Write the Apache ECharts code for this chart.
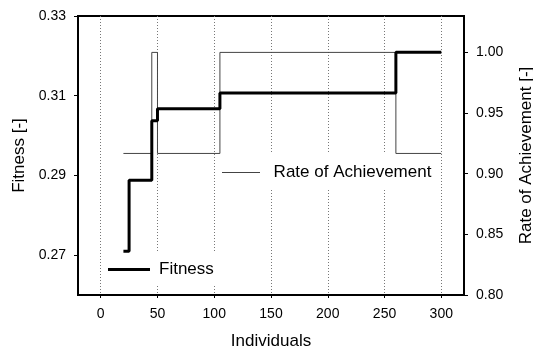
<!DOCTYPE html>
<html>
<head>
<meta charset="utf-8">
<script src="https://cdn.jsdelivr.net/npm/echarts@6/dist/echarts.min.js"></script>
<style>
html,body{margin:0;padding:0;background:#fff;}
#chart{width:533px;height:351px;}
</style>
</head>
<body>
<div id="chart"></div>
<script>
// ---- data ----
var fitnessX = [20, 25, 45, 50, 105, 260, 300];
var fitnessY = [0.271, 0.2888, 0.3037, 0.3067, 0.3107, 0.3209, 0.3209];
var rateX = [20, 45, 50, 105, 260, 300];
var rateY = [0.9167, 1.0, 0.9167, 1.0, 0.9167, 0.9167];
var xTicks = [0, 50, 100, 150, 200, 250, 300];
var fitnessTicks = [0.27, 0.29, 0.31, 0.33];
var rateTicks = [0.80, 0.85, 0.90, 0.95, 1.00];

var FONT = 'Liberation Sans, Arial, Helvetica, sans-serif';

function pairs(xs, ys) {
  var out = [];
  for (var i = 0; i < xs.length; i++) out.push([xs[i], ys[i]]);
  return out;
}

var chart = echarts.init(document.getElementById('chart'), null, {renderer: 'canvas'});
chart.setOption({
  animation: false,
  backgroundColor: '#fff',
  textStyle: {fontFamily: FONT, color: '#000'},
  grid: {left: 78, right: 69, top: 16, bottom: 56, containLabel: false, outerBoundsMode: 'none',
    show: true, borderColor: '#000', borderWidth: 2, backgroundColor: 'transparent'},
  legend: [
    {
      data: ['Fitness'], left: 102, top: 253, orient: 'horizontal',
      icon: 'rect', itemWidth: 42, itemHeight: 3,
      padding: [8, 3, 8, 6], backgroundColor: '#fff', selectedMode: false,
      textStyle: {fontSize: 17, color: '#000', fontFamily: FONT, padding: [0, 0, 0, 4]}
    },
    {
      data: ['Rate of Achievement'], left: 217, top: 154, orient: 'horizontal',
      icon: 'rect', itemWidth: 38, itemHeight: 1,
      padding: [10, 5, 9, 5], backgroundColor: '#fff', selectedMode: false,
      textStyle: {fontSize: 17, color: '#000', fontFamily: FONT, padding: [0, 0, 0, 8.6]}
    }
  ],
  xAxis: {
    type: 'value', min: -20, max: 320,
    name: 'Individuals', nameLocation: 'middle', nameGap: 38,
    nameTextStyle: {fontSize: 17, color: '#000', fontFamily: FONT},
    axisLine: {show: true, onZero: false, lineStyle: {color: '#000', width: 2}},
    axisTick: {show: true, inside: false, length: 3, customValues: xTicks, lineStyle: {color: '#000', width: 1}},
    axisLabel: {customValues: xTicks, fontSize: 14, color: '#000', margin: 12, fontFamily: FONT,
      formatter: function (v) { return String(Math.round(v)); }},
    splitLine: {show: true, lineStyle: {color: '#777', width: 1, type: [1, 2]}}
  },
  yAxis: [
    {
      type: 'value', min: 0.26, max: 0.33, position: 'left',
      name: 'Fitness [-]', nameLocation: 'middle', nameGap: 50,
      nameTextStyle: {fontSize: 17, color: '#000', fontFamily: FONT},
      axisLine: {show: true, onZero: false, lineStyle: {color: '#000', width: 2}},
      axisTick: {show: true, inside: false, length: 4, customValues: fitnessTicks, lineStyle: {color: '#000', width: 1}},
      axisLabel: {customValues: fitnessTicks, fontSize: 14, color: '#000', margin: 12, fontFamily: FONT,
        formatter: function (v) { return v.toFixed(2); }},
      splitLine: {show: false}
    },
    {
      type: 'value', min: 0.8, max: 1.03, position: 'right',
      name: 'Rate of Achievement [-]', nameLocation: 'middle', nameGap: 54,
      nameTextStyle: {fontSize: 17, color: '#000', fontFamily: FONT},
      axisLine: {show: true, onZero: false, lineStyle: {color: '#000', width: 2}},
      axisTick: {show: true, inside: false, length: 4, customValues: rateTicks, lineStyle: {color: '#000', width: 1}},
      axisLabel: {customValues: rateTicks, fontSize: 14, color: '#000', margin: 12, fontFamily: FONT,
        formatter: function (v) { return v.toFixed(2); }},
      splitLine: {show: false}
    }
  ],
  series: [
    {
      name: 'Rate of Achievement', type: 'line', yAxisIndex: 1, step: 'end',
      data: pairs(rateX, rateY), showSymbol: false, symbol: 'none',
      color: '#444', lineStyle: {color: '#444', width: 1}, silent: true, z: 2
    },
    {
      name: 'Fitness', type: 'line', yAxisIndex: 0, step: 'end',
      data: pairs(fitnessX, fitnessY), showSymbol: false, symbol: 'none',
      color: '#000', lineStyle: {color: '#000', width: 3}, silent: true, z: 3
    }
  ]
});
</script>
</body>
</html>
